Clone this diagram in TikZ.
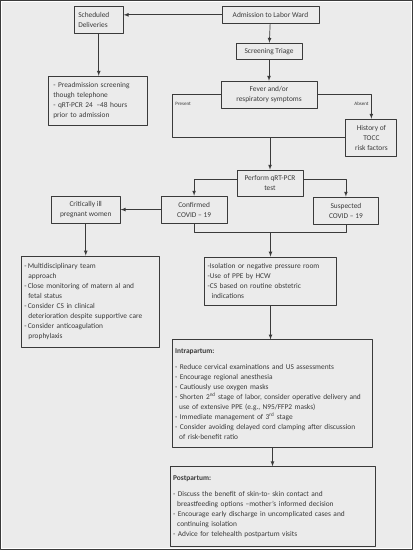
\documentclass[tikz,border=0pt]{standalone}
\usepackage{fontspec}
\setmainfont{Carlito}
\definecolor{bgcol}{HTML}{EBEBEB}
\definecolor{inkcol}{HTML}{3A3A3A}
\tikzset{
  box/.style={draw=inkcol,line width=0.9pt,text=inkcol,inner sep=0pt,
    font=\fontsize{7.4}{10}\selectfont},
  lbox/.style={box,align=left},
  tag/.style={text=inkcol,font=\fontsize{5}{6}\selectfont,inner sep=1pt},
}
\newcommand{\ind}{\hspace*{0.55em}}
\begin{document}
\begin{tikzpicture}[x=1pt,y=-1pt,>=latex,line join=bevel,
  every path/.style={draw=inkcol,line width=0.7pt}]
%%
  \fill[white] (0,0) rectangle (413,550);
  \fill[bgcol] (2,2) rectangle (411,548);
  \useasboundingbox (0,0) rectangle (413,550);

  \node (admit) at (270.5,14.5) [box,minimum width=97,minimum height=17] {Admission to Labor Ward};
  \node (sched) at (98.5,19.5) [lbox,minimum width=49,minimum height=27,text width=41] {Scheduled\\Deliveries};
  \node (preadm) at (97.5,100.5) [lbox,minimum width=99,minimum height=49,text width=89] {- Preadmission screening\\though telephone\\- qRT-PCR 24 \,--48 hours\\prior to admission};
  \node (triage) at (269,51) [box,minimum width=66,minimum height=16] {Screening Triage};
  \node (fever) at (269,94.5) [box,align=center,minimum width=96,minimum height=27] {Fever and/or\\respiratory symptoms};
  \node (history) at (371.5,137.5) [box,align=center,minimum width=51,minimum height=37] {History of\\TOCC\\risk factors};
  \node (perform) at (270,183) [box,align=center,minimum width=66,minimum height=26] {Perform qRT-PCR\\test};
  \node (confirmed) at (194,209.5) [box,align=center,minimum width=66,minimum height=27] {Confirmed\\COVID -- 19};
  \node (suspected) at (346,210.5) [box,align=center,minimum width=66,minimum height=27] {Suspected\\COVID -- 19};
  \node (critical) at (85.5,209.5) [box,align=center,minimum width=69,minimum height=27] {Critically ill\\pregnant women};
  \node (multi) at (90,302) [lbox,minimum width=138,minimum height=92,text width=132] {-\,Multidisciplinary team\\\ind approach\\-\,Close monitoring of matern al and\\\ind fetal status\\-\,Consider CS in clinical\\\ind deterioration despite supportive care\\-\,Consider anticoagulation\\\ind prophylaxis};
  \node (isol) at (270.5,281) [lbox,minimum width=133,minimum height=48,text width=126] {-Isolation or negative pressure room\\-Use of PPE by HCW\\-CS based on routine obstetric\\\ind indications};
  \node (intra) at (272.5,394) [lbox,minimum width=201,minimum height=108,text width=195] {\textbf{Intrapartum:}\\[6pt]- Reduce cervical examinations and US assessments\\- Encourage regional anesthesia\\- Cautiously use oxygen masks\\- Shorten 2\textsuperscript{nd} stage of labor, consider operative delivery and\\\ind use of extensive PPE (e.g., N95/FFP2 masks)\\- Immediate management of 3\textsuperscript{rd} stage\\- Consider avoiding delayed cord clamping after discussion\\\ind of risk-benefit ratio};
  \node (post) at (273,507) [lbox,minimum width=206,minimum height=80,text width=200] {\textbf{Postpartum:}\\[6pt]- Discuss the benefit of skin-to- skin contact and\\\ind breastfeeding options --mother's informed decision\\- Encourage early discharge in uncomplicated cases and\\\ind continuing isolation\\- Advice for telehealth postpartum visits};

  \coordinate (present) at (172,137.5);
  \coordinate (merge) at (270.5,232);
  \node (presenttag) at (174,104) [tag,anchor=west] {Present};
  \node (absenttag) at (370,104) [tag,anchor=east] {Absent};

  \draw [->] (admit.west) -- (admit.west -| sched.east);
  \draw [->] (sched) -- (sched |- preadm.north);
  \draw [->] (admit) -- (triage);
  \draw [->] (triage) -- (fever);
  \draw (fever.west) -| (present) -- (history.west);
  \draw [->] (perform.north |- present) -- (perform.north);
  \draw [->] (fever.east) -| (history.north);
  \draw [->] ([yshift=4pt]perform.west) -| (confirmed.north);
  \draw [->] ([yshift=4pt]perform.east) -| (suspected.north);
  \draw [->] (confirmed) -- (critical);
  \draw [->] (critical) -- (critical |- multi.north);
  \draw (confirmed.south) |- (merge) -| (suspected.south);
  \draw [->] (merge) -- (isol.north);
  \draw [->] (isol) -- (isol |- intra.north);
  \draw [->] (intra) -- (intra |- post.north);

\end{tikzpicture}
\end{document}
